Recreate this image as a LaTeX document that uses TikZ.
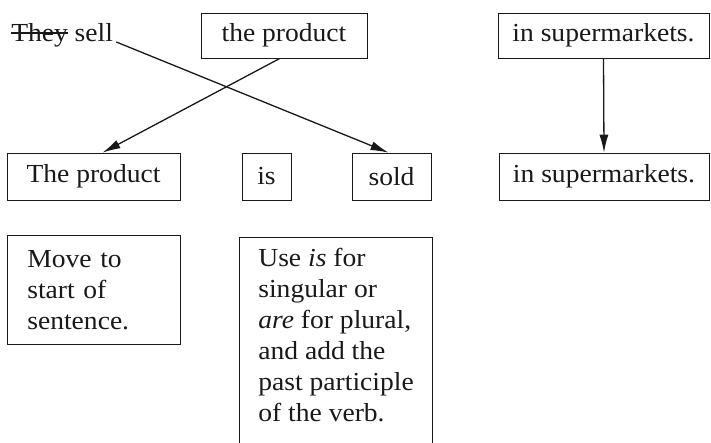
\documentclass[tikz,border=0pt]{standalone}
\usepackage{fontspec}
\setmainfont{Liberation Serif}[FakeStretch=1.06]
\usepackage{xcolor}
\definecolor{inkblack}{RGB}{25, 25, 25}
\usetikzlibrary{arrows.meta, positioning}

\begin{document}
\begin{tikzpicture}[x=1pt, y=-1pt, >={Latex[length=18pt, width=9pt]},
    box/.style={draw=inkblack, line width=0.7pt, font=\fontsize{26}{31}\selectfont, text=inkblack, inner sep=0pt},
    note/.style={box, align=left, anchor=north west, inner xsep=20pt, inner ysep=15pt},
    move/.style={->, line width=1.3pt, inkblack}]
    \useasboundingbox (0,0) rectangle (711,443);
    \coordinate (floor) at (0,443);
    \coordinate (ruleedge) at (432,443);

    % active sentence
    \node[box, draw=none, anchor=base west] (they) at (11,42) {They};
    \node[box, draw=none, anchor=base west] (sell) at ([xshift=6pt]they.base east) {sell};
    \draw[line width=1.6pt, inkblack] ([yshift=9pt]they.base west) -- ([yshift=9pt]they.base east);
    \node[box, minimum width=166pt, minimum height=45pt] (prod) at (284,35.5) {the product};
    \node[box, minimum width=211pt, minimum height=45pt] (market) at (603.5,35.5) {in supermarkets.};

    % passive sentence
    \node[box, minimum width=173pt, minimum height=47pt] (newprod) at (93.5,176.5) {The product};
    \node[box, minimum width=49pt, minimum height=47pt] (is) at (266.5,176.5) {is};
    \node[box, minimum width=79pt, minimum height=47pt] (sold) at (391.5,176.5) {sold};
    \node[box, minimum width=210pt, minimum height=47pt] (newmarket) at (604,176.5) {in supermarkets.};

    \draw[move] ([xshift=3pt]sell.base east) -- ([xshift=-3pt]sold.north);
    \draw[move] ([xshift=-4pt]prod.south) -- ([xshift=9pt]newprod.north);
    \draw[move] (market.south) -- (newmarket.north);

    % notes
    \node[note, text width=133pt] (tip) at (7,235) {Move to\\start of\\sentence.};
    \node[note, draw=none, inner xsep=19pt, inner ysep=11pt] (rule) at (239,237)
        {Use \textit{is} for\\singular or\\\textit{are} for plural,\\and add the\\past participle\\of the verb.};
    \draw[line width=0.7pt, inkblack] (rule.north west |- floor) -- (rule.north west) -- (rule.north west -| ruleedge) -- (ruleedge);
\end{tikzpicture}
\end{document}
